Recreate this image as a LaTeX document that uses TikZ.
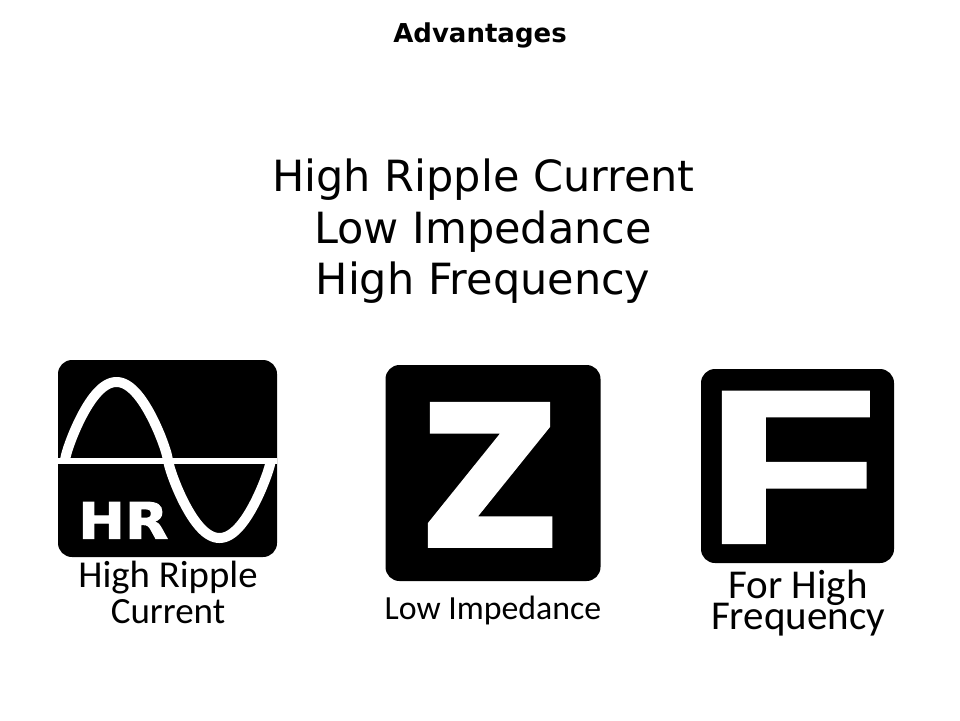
\documentclass[tikz,border=0pt]{standalone}
\usepackage{fontspec}
\setmainfont{DejaVu Sans}
\newfontfamily\lblfont{Carlito}
\newfontfamily\glyphfont{Liberation Sans Bold}[FakeBold=1]
\newfontfamily\heavyfont{DejaVu Sans Bold}[FakeBold=2]
\tikzset{
  iconbox/.style={fill=black,draw=none,rounded corners=14pt,inner sep=0pt},
  titletxt/.style={inner sep=0pt,anchor=base,font=\fontsize{26pt}{28pt}\selectfont\bfseries},
  maintxt/.style={inner sep=0pt,anchor=base,font=\fontsize{43pt}{48pt}\selectfont},
  icontxt/.style={inner sep=0pt,anchor=base,font=\lblfont\fontsize{38pt}{40pt}\selectfont},
  glyph/.style={inner sep=0pt,anchor=base west,text=white,font=\glyphfont\fontsize{100pt}{100pt}\selectfont},
  heavyglyph/.style={inner sep=0pt,anchor=base west,text=white,font=\heavyfont\fontsize{100pt}{100pt}\selectfont}
}
\begin{document}
\begin{tikzpicture}[x=1pt,y=-1pt]
\useasboundingbox (0,0) rectangle (960,720);
\node[titletxt] (title) at (480,42) {Advantages};
\node[maintxt] (l1) at (483.5,191.5) {High Ripple Current};
\node[maintxt] (l2) at (483,243) {Low Impedance};
\node[maintxt] (l3) at (483,294) {High Frequency};
% HR icon
\node[iconbox,minimum width=219pt,minimum height=197pt] (hrbox) at (167.5,458.5) {};
\begin{scope}
\clip[rounded corners=14pt] (58,360) rectangle (277,557);
\begin{scope}
\clip (58,360) -- (240,360) -- (240,461) -- (277,461) -- (277,557) -- (100,557) -- (100,461) -- (58,461) -- cycle;
\draw[white,line width=10pt,line join=round,domain=40:300,samples=261] plot (\x,{460-78*sin((\x-65)*1.748)*pow(abs(sin((\x-65)*1.748))+0.001,-0.2)});
\end{scope}
\fill[white] (58,458) rectangle (277,464);
\end{scope}
\node[heavyglyph] (hr) at (78,538.5) {\scalebox{0.56}[0.5]{HR}};
\node[icontxt] (hl1) at (168,587) {\scalebox{1.02}[1]{High Ripple}};
\node[icontxt,font=\lblfont\fontsize{37pt}{40pt}\selectfont] (hl2) at (168,623) {Current};
% Z icon
\node[iconbox,minimum width=215pt,minimum height=216pt] (zbox) at (493,473) {};
\node[heavyglyph] (z) at (421,546) {\scalebox{1.9}[1.95]{Z}};
\node[icontxt,font=\lblfont\fontsize{33.8pt}{36pt}\selectfont] (zl) at (493,619) {Low Impedance};
% F icon
\node[iconbox,minimum width=193pt,minimum height=194pt] (fbox) at (797.5,466) {};
\node[glyph] (f) at (704,543) {\scalebox{2.86}[2.2]{F}};
\node[icontxt,font=\lblfont\fontsize{41pt}{44pt}\selectfont] (fl1) at (798,598) {For High};
\node[icontxt,font=\lblfont\fontsize{41pt}{44pt}\selectfont] (fl2) at (798,629) {Frequency};
\end{tikzpicture}
\end{document}
